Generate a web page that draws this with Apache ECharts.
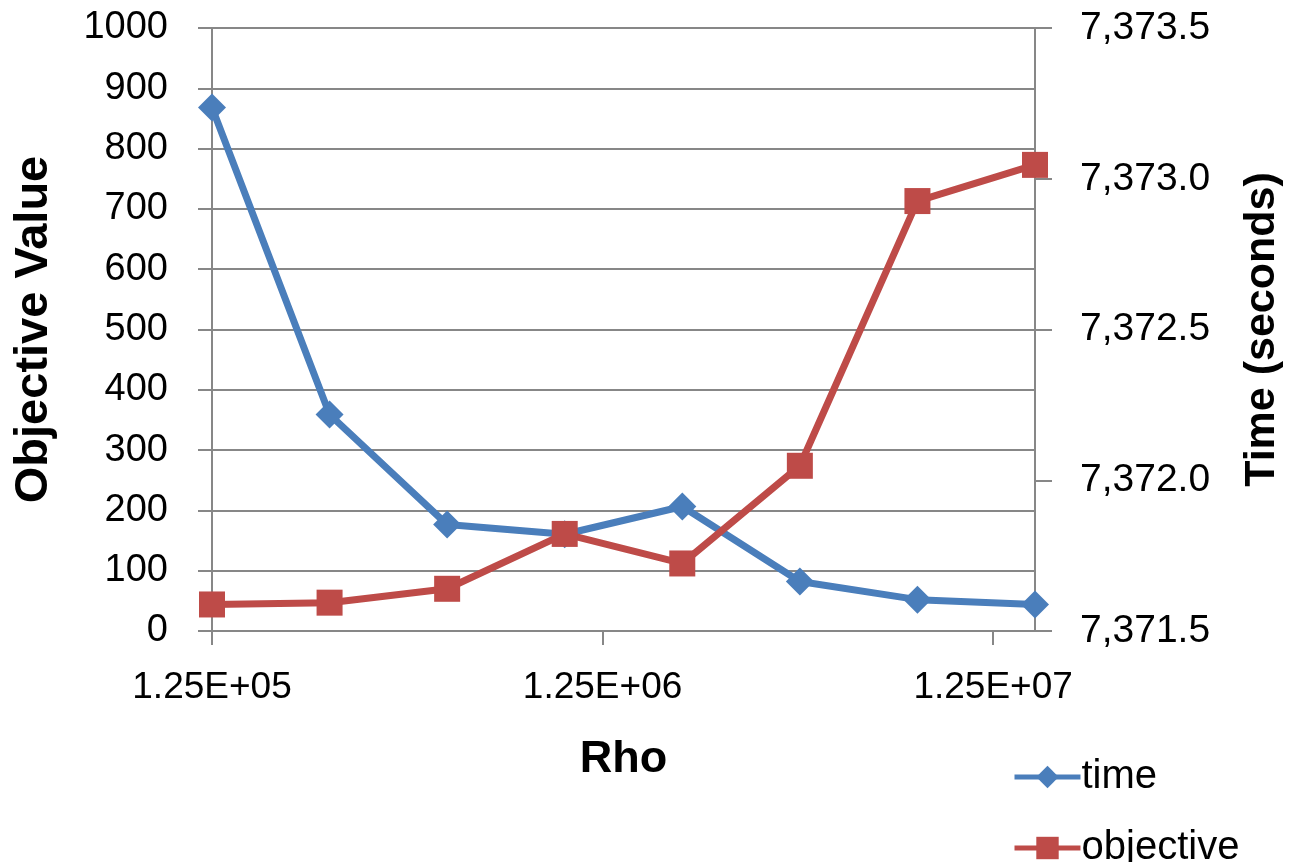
<!DOCTYPE html>
<html>
<head>
<meta charset="utf-8">
<script src="https://cdn.jsdelivr.net/npm/echarts@6/dist/echarts.min.js"></script>
<style>
  html, body { margin: 0; padding: 0; background: #ffffff; }
  #chart { width: 1291px; height: 862px; }
</style>
</head>
<body>
<div id="chart"></div>
<script>
// Penalty parameter rho (doubling each run)
const rhoValues = [125000, 250000, 500000, 1000000, 2000000, 4000000, 8000000, 16000000];
// Run time in seconds (right axis)
const timeValues = [7373.236, 7372.218, 7371.853, 7371.821, 7371.913, 7371.664, 7371.604, 7371.588];
// Objective value (left axis)
const objectiveValues = [44, 47, 70, 161, 112, 274, 713, 773];
// Labelled positions on the rho axis
const rhoTicks = [125000, 1250000, 12500000];

const FONT = '"Liberation Sans", Arial, sans-serif';
const GRID_GRAY = '#878787';
const BLUE = '#4A7EBB';
const RED = '#BE4B48';

function sci(v) {
  const s = Number(v).toExponential(2);      // e.g. "1.25e+5"
  const m = s.split('e');
  const sign = m[1][0];
  const exp = m[1].slice(1).padStart(2, '0');
  return m[0] + 'E' + sign + exp;
}

function thousands(v) {
  const fixed = Number(v).toFixed(1);
  const parts = fixed.split('.');
  return parts[0].replace(/\B(?=(\d{3})+(?!\d))/g, ',') + '.' + parts[1];
}

// One legend block per series, stacked in the lower right corner
function legendEntry(name, top) {
  return {
    orient: 'vertical',
    left: 1012,
    top: top,
    padding: 0,
    itemWidth: 66,
    itemHeight: 28,
    lineStyle: { width: 5 },
    textStyle: { fontFamily: FONT, fontSize: 40, lineHeight: 28, color: '#000000', padding: [0, 0, 0, -4] },
    data: [name]
  };
}

const chart = echarts.init(document.getElementById('chart'), null, { renderer: 'canvas' });

chart.setOption({
  animation: false,
  backgroundColor: '#ffffff',
  grid: { left: 212, right: 256, top: 28, bottom: 231, containLabel: false, outerBoundsMode: 'none' },
  legend: [legendEntry('time', 757), legendEntry('objective', 828)],
  xAxis: {
    type: 'log',
    logBase: 10,
    min: rhoValues[0],
    max: rhoValues[rhoValues.length - 1],
    name: 'Rho',
    nameLocation: 'middle',
    nameGap: 106,
    nameTextStyle: { fontFamily: FONT, fontSize: 45, fontWeight: 'bold', color: '#000000' },
    axisLine: { show: true, lineStyle: { color: GRID_GRAY, width: 2 } },
    axisTick: { show: true, inside: false, length: 14, customValues: rhoTicks, lineStyle: { color: GRID_GRAY, width: 2 } },
    axisLabel: {
      customValues: rhoTicks,
      margin: 38,
      fontFamily: FONT, fontSize: 37, color: '#000000',
      formatter: sci
    },
    splitLine: { show: false },
    minorTick: { show: false }
  },
  yAxis: [
    {
      type: 'value',
      min: 0,
      max: 1000,
      interval: 100,
      position: 'left',
      name: 'Objective Value',
      nameLocation: 'middle',
      nameRotate: 90,
      nameGap: 154,
      nameTextStyle: { fontFamily: FONT, fontSize: 47, fontWeight: 'bold', color: '#000000' },
      axisLine: { show: true, lineStyle: { color: GRID_GRAY, width: 2 } },
      axisTick: { show: true, inside: false, length: 14, lineStyle: { color: GRID_GRAY, width: 2 } },
      axisLabel: { margin: 44, fontFamily: FONT, fontSize: 38, color: '#000000', formatter: v => String(v) },
      splitLine: { show: true, lineStyle: { color: GRID_GRAY, width: 2 } }
    },
    {
      type: 'value',
      min: 7371.5,
      max: 7373.5,
      interval: 0.5,
      position: 'right',
      name: 'Time (seconds)',
      nameLocation: 'middle',
      nameRotate: 90,
      nameGap: 206,
      nameTextStyle: { fontFamily: FONT, fontSize: 43, fontWeight: 'bold', color: '#000000' },
      axisLine: { show: true, lineStyle: { color: GRID_GRAY, width: 2 } },
      axisTick: { show: true, inside: false, length: 17, lineStyle: { color: GRID_GRAY, width: 2 } },
      axisLabel: { margin: 45, fontFamily: FONT, fontSize: 39, color: '#000000', formatter: thousands },
      splitLine: { show: false }
    }
  ],
  series: [
    {
      name: 'time',
      type: 'line',
      yAxisIndex: 1,
      data: rhoValues.map((r, i) => [r, timeValues[i]]),
      symbol: 'diamond',
      symbolSize: 28,
      lineStyle: { color: BLUE, width: 7 },
      itemStyle: { color: BLUE },
      z: 2
    },
    {
      name: 'objective',
      type: 'line',
      yAxisIndex: 0,
      data: rhoValues.map((r, i) => [r, objectiveValues[i]]),
      symbol: 'rect',
      symbolSize: 26,
      lineStyle: { color: RED, width: 7 },
      itemStyle: { color: RED },
      z: 3
    }
  ]
});
</script>
</body>
</html>
